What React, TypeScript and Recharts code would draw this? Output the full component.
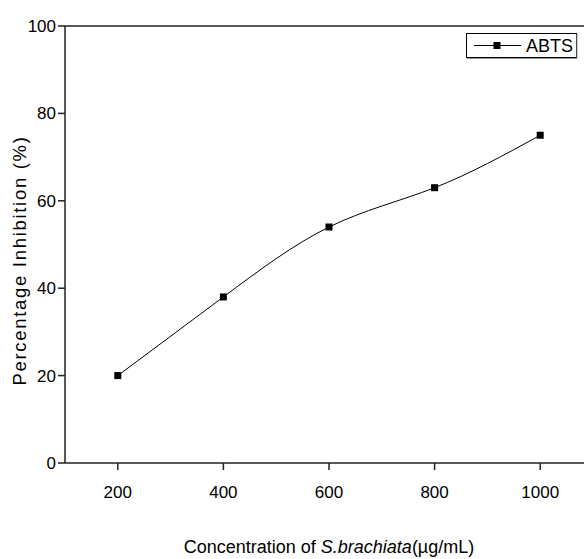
import React from "react";
import { LineChart, Line, XAxis, YAxis, ReferenceLine, Legend } from "recharts";

const concentrations = [200, 400, 600, 800, 1000];
const abtsValues = [20, 38, 54, 63, 75];
const xTicks = [200, 400, 600, 800, 1000];
const yTicks = [0, 20, 40, 60, 80, 100];
const seriesName = "ABTS";

const data = concentrations.map((c, i) => ({ conc: c, abts: abtsValues[i] }));

const FONT = "'Liberation Sans', Arial, sans-serif";

const Square = (props: any) => {
  const { cx, cy } = props;
  if (cx == null || cy == null) return null;
  return <rect x={cx - 3.5} y={cy - 3.5} width={7} height={7} fill="#000" />;
};

const XTitle = (props: any) => {
  const vb = props.viewBox || {};
  const cx = vb.x + vb.width / 2;
  return (
    <text x={cx} y={553} textAnchor="middle" fontFamily={FONT} fontSize={18} fill="#000">
      <tspan>Concentration of </tspan>
      <tspan fontStyle="italic">S.brachiata</tspan>
      <tspan>(µg/mL)</tspan>
    </text>
  );
};

const YTitle = (props: any) => {
  const vb = props.viewBox || {};
  const cy = vb.y + vb.height / 2 + 16;
  return (
    <text
      x={26}
      y={cy}
      transform={`rotate(-90 26 ${cy})`}
      textAnchor="middle"
      fontFamily={FONT}
      fontSize={18.5}
      letterSpacing={1.7}
      fill="#000"
    >
      Percentage Inhibition (%)
    </text>
  );
};

const LegendBox = () => (
  <svg width={114} height={28} style={{ display: "block" }}>
    <rect x={1.5} y={1.5} width={110} height={24} fill="#fff" stroke="#000" strokeWidth={1} />
    <line x1={112} y1={2} x2={112} y2={26.5} stroke="#999" strokeWidth={1} />
    <line x1={2} y1={26.5} x2={112} y2={26.5} stroke="#999" strokeWidth={1} />
    <line x1={9} y1={13.5} x2={56} y2={13.5} stroke="#000" strokeWidth={1} />
    <rect x={28.5} y={10} width={7} height={7} fill="#000" />
    <text x={61} y={20} fontFamily={FONT} fontSize={18} fill="#000">
      {seriesName}
    </text>
  </svg>
);

export default function App() {
  return (
    <div
      style={{
        position: "absolute",
        left: 0,
        top: 0,
        width: 584,
        height: 559,
        overflow: "hidden",
        background: "#fff",
      }}
    >
      <LineChart
        width={620}
        height={559}
        data={data}
        margin={{ top: 26, right: 27, bottom: 0, left: 0 }}
      >
        <XAxis
          dataKey="conc"
          type="number"
          domain={[100, 1100]}
          ticks={xTicks}
          height={68}
          tickSize={7}
          tickMargin={16}
          axisLine={{ stroke: "#222", strokeWidth: 1.5 }}
          tickLine={{ stroke: "#222", strokeWidth: 1.5 }}
          tick={{ fill: "#000", fontSize: 17, fontFamily: FONT }}
          label={<XTitle />}
        />
        <YAxis
          type="number"
          domain={[0, 100]}
          ticks={yTicks}
          width={65}
          tickSize={7}
          tickMargin={2}
          axisLine={{ stroke: "#222", strokeWidth: 1.5 }}
          tickLine={{ stroke: "#222", strokeWidth: 1.5 }}
          tick={{ fill: "#000", fontSize: 17, fontFamily: FONT }}
          label={<YTitle />}
        />
        <ReferenceLine y={100} stroke="#222" strokeWidth={1.5} />
        <Legend
          content={() => <LegendBox />}
          wrapperStyle={{ position: "absolute", left: 465, top: 32, width: 114, height: 28 }}
        />
        <Line
          type="natural"
          dataKey="abts"
          name={seriesName}
          stroke="#000"
          strokeWidth={1}
          dot={<Square />}
          activeDot={false}
          isAnimationActive={false}
        />
      </LineChart>
    </div>
  );
}
